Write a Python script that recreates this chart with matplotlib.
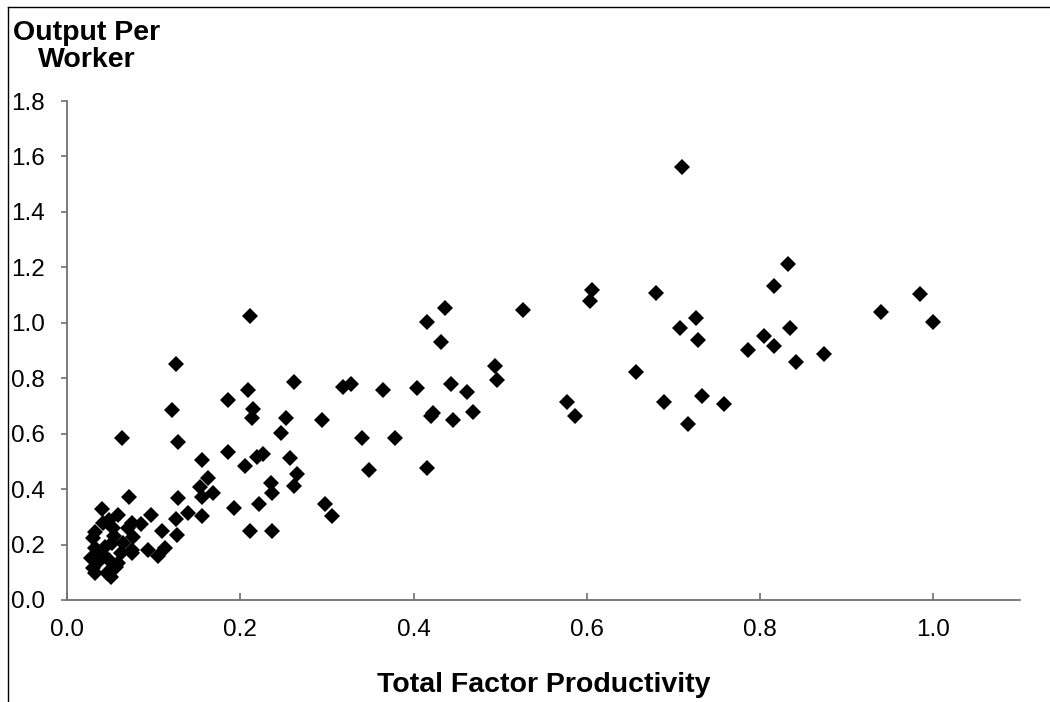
import numpy as np
import matplotlib.pyplot as plt
from matplotlib.lines import Line2D

# data: total factor productivity vs output per worker
tfp = [0.262, 0.318, 0.328, 0.365, 0.404, 0.436, 0.416, 0.432, 0.526, 0.494,
       0.496, 0.443, 0.462, 0.420, 0.423, 0.446, 0.469, 0.253, 0.247, 0.294,
       0.340, 0.379, 0.257, 0.266, 0.262, 0.298, 0.306, 0.349, 0.416,
       0.710, 0.606, 0.604, 0.680, 0.726, 0.708, 0.728, 0.786, 0.804, 0.657,
       0.577, 0.586, 0.689, 0.733, 0.758, 0.717,
       0.832, 0.816, 0.834, 0.816, 0.841, 0.874, 0.940, 0.984, 1.000,
       0.211, 0.126, 0.209, 0.186, 0.215, 0.213, 0.121, 0.064, 0.128, 0.186,
       0.156, 0.219, 0.226, 0.206, 0.163, 0.153, 0.169, 0.156, 0.236, 0.237,
       0.071, 0.128, 0.193, 0.222, 0.140, 0.156, 0.126, 0.097, 0.110, 0.127,
       0.113, 0.105, 0.211, 0.237, 0.094, 0.075, 0.085, 0.059, 0.076, 0.075,
       0.040, 0.048, 0.042, 0.070, 0.053, 0.032, 0.054, 0.030, 0.052, 0.065,
       0.075, 0.044, 0.032, 0.028, 0.036, 0.048, 0.059, 0.030, 0.046, 0.051,
       0.032, 0.062, 0.040, 0.056]
opw = [0.785, 0.767, 0.779, 0.758, 0.765, 1.052, 1.002, 0.930, 1.046, 0.844,
       0.794, 0.779, 0.750, 0.664, 0.674, 0.649, 0.678, 0.658, 0.601, 0.649,
       0.584, 0.584, 0.513, 0.456, 0.411, 0.347, 0.303, 0.469, 0.476,
       1.563, 1.118, 1.080, 1.109, 1.016, 0.980, 0.937, 0.901, 0.952, 0.823,
       0.714, 0.664, 0.714, 0.736, 0.707, 0.635,
       1.211, 1.132, 0.980, 0.916, 0.857, 0.887, 1.038, 1.103, 1.002,
       1.025, 0.851, 0.758, 0.722, 0.689, 0.655, 0.685, 0.586, 0.569, 0.534,
       0.505, 0.517, 0.527, 0.484, 0.441, 0.407, 0.385, 0.373, 0.423, 0.387,
       0.370, 0.369, 0.333, 0.346, 0.313, 0.304, 0.291, 0.305, 0.249, 0.236,
       0.189, 0.157, 0.249, 0.249, 0.182, 0.279, 0.274, 0.305, 0.227, 0.168,
       0.327, 0.289, 0.277, 0.258, 0.259, 0.246, 0.231, 0.225, 0.205, 0.205,
       0.180, 0.192, 0.187, 0.150, 0.138, 0.144, 0.132, 0.114, 0.096, 0.084,
       0.096, 0.170, 0.165, 0.118]

xticks = [0.0, 0.2, 0.4, 0.6, 0.8, 1.0]
yticks = [0.0, 0.2, 0.4, 0.6, 0.8, 1.0, 1.2, 1.4, 1.6, 1.8]

plt.rcParams['font.family'] = ['Liberation Sans', 'DejaVu Sans']

fig = plt.figure(figsize=(10.5, 7.02), dpi=100)
ax = fig.add_axes([67/1050, 1-600/702, (1020-67)/1050, (600-101)/702])

ax.plot(tfp, opw, linestyle='none', marker='D', markersize=7.8,
        color='black', markeredgewidth=0, clip_on=False)

ax.set_xlim(0, 1.1)
ax.set_ylim(0, 1.8)
ax.set_xticks(xticks)
ax.set_xticklabels(['%.1f' % v for v in xticks])
ax.set_yticks(yticks)
ax.set_yticklabels(['%.1f' % v for v in yticks])

for s in ['top', 'right']:
    ax.spines[s].set_visible(False)
for s in ['left', 'bottom']:
    ax.spines[s].set_color('#707070')
    ax.spines[s].set_linewidth(1.3)

ax.tick_params(axis='x', direction='in', length=5, width=1.2, color='#707070',
               labelsize=17.5, pad=14)
ax.tick_params(axis='y', direction='out', length=4, width=1.2, color='#707070',
               labelsize=17.5, pad=12)

ax.set_xlabel('Total Factor Productivity', fontsize=20.5, fontweight='bold', labelpad=22)
fig.text(87/1050, 1-20/702, 'Output Per\nWorker', ha='center', va='top',
         fontsize=20.5, fontweight='bold', linespacing=1.03)

# chart-area border (only top and left edges fall inside the picture)
fig.add_artist(Line2D([8/1050, 1.0], [1-7/702, 1-7/702], color='black', lw=1))
fig.add_artist(Line2D([8/1050, 8/1050], [0, 1-7/702], color='black', lw=1))

fig.savefig('out.png', dpi=100)
